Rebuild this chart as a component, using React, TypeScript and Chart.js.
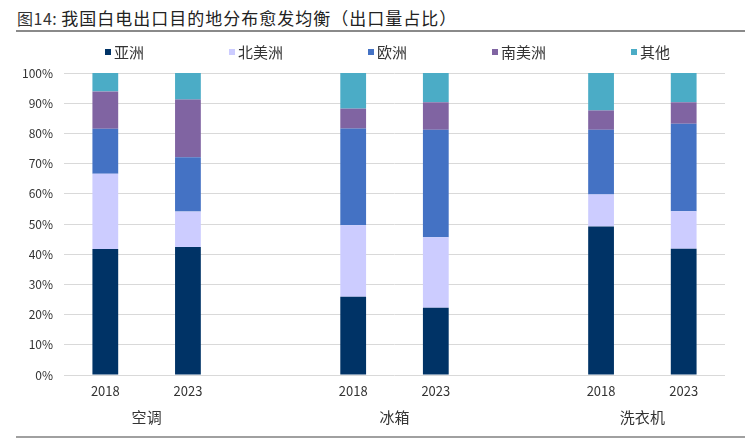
import React, { useEffect, useRef } from 'react';
import { Chart, registerables } from 'chart.js';

Chart.register(...registerables);

const titlePrefix = '图14: ';
const titleText = '我国白电出口目的地分布愈发均衡（出口量占比）';
const categories = ['2018', '2023', '', '2018', '2023', '', '2018', '2023'];
const groups = ['空调', '冰箱', '洗衣机'];
const groupStartIndex = [0, 3, 6];
const seriesNames = ['亚洲', '北美洲', '欧洲', '南美洲', '其他'];
const asia = [41.7, 42.4, null, 25.9, 22.3, null, 49.2, 41.8];
const northAmerica = [24.9, 11.7, null, 23.7, 23.3, null, 10.6, 12.4];
const europe = [14.9, 18.0, null, 32.0, 35.6, null, 21.4, 29.0];
const southAmerica = [12.4, 19.1, null, 6.6, 9.1, null, 6.4, 7.1];
const others = [6.1, 8.8, null, 11.8, 9.7, null, 12.4, 9.7];
const seriesColors = ['#003366', '#CCCCFF', '#4472C4', '#8064A2', '#4BACC6'];
const yMin = 0;
const yMax = 100;
const yStep = 10;

const FONT = '"Noto Sans CJK SC", "Noto Sans", sans-serif';

const legendPlugin = {
  id: 'customLegend',
  afterDraw(chart: any) {
    const ctx = chart.ctx;
    ctx.save();
    ctx.font = `15px ${FONT}`;
    ctx.textBaseline = 'middle';
    ctx.textAlign = 'left';
    let x = 105;
    const y = 19;
    chart.data.datasets.forEach((ds: any) => {
      ctx.fillStyle = ds.backgroundColor;
      ctx.fillRect(x, y - 3, 6, 6);
      x += 9;
      ctx.fillStyle = '#333333';
      ctx.fillText(ds.label, x, y);
      x += ctx.measureText(ds.label).width + 85;
    });
    ctx.restore();
  },
};

const groupLabelPlugin = {
  id: 'groupLabels',
  afterDraw(chart: any) {
    const ctx = chart.ctx;
    const xs = chart.scales.x;
    ctx.save();
    ctx.font = `15px ${FONT}`;
    ctx.textBaseline = 'middle';
    ctx.textAlign = 'center';
    ctx.fillStyle = '#333333';
    groups.forEach((g, i) => {
      const s = groupStartIndex[i];
      const cx = (xs.getPixelForValue(s) + xs.getPixelForValue(s + 1)) / 2;
      ctx.fillText(g, cx, chart.chartArea.bottom + 42.5);
    });
    ctx.restore();
  },
};

export default function App() {
  const ref = useRef<HTMLCanvasElement | null>(null);

  useEffect(() => {
    if (!ref.current) return;
    const seriesData = [asia, northAmerica, europe, southAmerica, others];
    const chart = new Chart(ref.current, {
      type: 'bar',
      data: {
        labels: categories,
        datasets: seriesNames.map((name, i) => ({
          label: name,
          data: seriesData[i],
          backgroundColor: seriesColors[i],
          borderWidth: 0,
          barPercentage: 0.312,
          categoryPercentage: 1,
        })),
      },
      options: {
        responsive: false,
        animation: false,
        devicePixelRatio: 1,
        layout: { padding: { top: 40, right: 20, left: 0, bottom: 0 } },
        plugins: {
          legend: { display: false },
          tooltip: { enabled: false },
          title: { display: false },
        },
        scales: {
          x: {
            stacked: true,
            grid: { display: false, drawTicks: false },
            border: { display: false },
            ticks: {
              font: { family: FONT, size: 13 },
              color: '#333333',
              padding: 8,
              maxRotation: 0,
              autoSkip: false,
            },
            afterFit: (s: any) => {
              s.height = 59;
            },
          },
          y: {
            stacked: true,
            min: yMin,
            max: yMax,
            grid: { color: '#D9D9D9', lineWidth: 1, drawTicks: false },
            border: { display: false },
            ticks: {
              stepSize: yStep,
              font: { family: FONT, size: 12 },
              color: '#333333',
              padding: 11,
              callback: (v: any) => `${v}%`,
            },
            afterFit: (s: any) => {
              s.width = 64;
            },
          },
        },
      },
      plugins: [legendPlugin, groupLabelPlugin],
    });
    return () => chart.destroy();
  }, []);

  return (
    <div
      style={{
        position: 'absolute',
        left: 0,
        top: 0,
        width: 745,
        height: 444,
        background: '#ffffff',
        overflow: 'hidden',
        fontFamily: FONT,
      }}
    >
      <div
        style={{
          position: 'absolute',
          left: 17,
          top: 7,
          fontSize: 17,
          lineHeight: '21px',
          color: '#222222',
          whiteSpace: 'pre',
        }}
      >
        <span style={{ fontSize: 16, color: '#333333', letterSpacing: 0.5 }}>{titlePrefix}</span>
        <span style={{ letterSpacing: 1 }}>{titleText}</span>
      </div>
      <div
        style={{
          position: 'absolute',
          left: 16,
          right: 0,
          top: 30,
          height: 2,
          background: '#8a8a8a',
        }}
      />
      <canvas
        ref={ref}
        width={745}
        height={401}
        style={{ position: 'absolute', left: 0, top: 33, width: 745, height: 401 }}
      />
      <div
        style={{
          position: 'absolute',
          left: 16,
          right: 0,
          top: 436,
          height: 2,
          background: '#a0a0a0',
        }}
      />
    </div>
  );
}
